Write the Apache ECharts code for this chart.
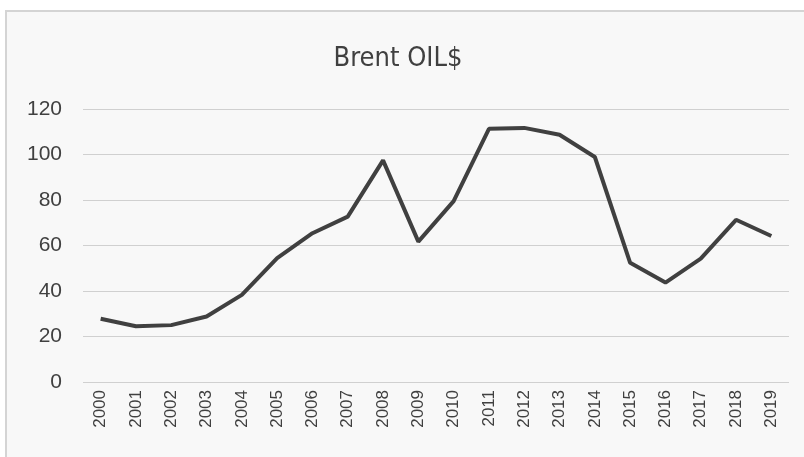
<!DOCTYPE html>
<html>
<head>
<meta charset="utf-8">
<script src="https://cdn.jsdelivr.net/npm/echarts@6/dist/echarts.min.js"></script>
<style>
  html, body { margin: 0; padding: 0; background: #ffffff; }
  #frame {
    position: absolute; left: 5px; top: 10px; width: 806px; height: 455px;
    border: 2px solid #d4d4d4; background: #f8f8f8; box-sizing: border-box;
  }
  #main { position: absolute; left: 0; top: 0; width: 804px; height: 457px; }
</style>
</head>
<body>
<div id="frame"></div>
<div id="main"></div>
<script>
var years = ['2000', '2001', '2002', '2003', '2004', '2005', '2006', '2007', '2008', '2009',
  '2010', '2011', '2012', '2013', '2014', '2015', '2016', '2017', '2018', '2019']
var brentPrice = [27.8, 24.5, 25.0, 28.8, 38.3, 54.5, 65.4, 72.7, 97.4, 61.7,
  79.5, 111.3, 111.7, 108.7, 98.9, 52.4, 43.7, 54.2, 71.3, 64.2]
var yTicks = { min: 0, max: 120, interval: 20 }

var chart = echarts.init(document.getElementById('main'))
chart.setOption({
  backgroundColor: 'transparent',
  title: {
    text: 'Brent OIL$',
    left: 393,
    textAlign: 'center',
    top: 40,
    textStyle: {
      fontFamily: "'Liberation Sans Narrow', 'DejaVu Sans Condensed', sans-serif",
      fontSize: 27, fontWeight: 'normal', color: '#404040'
    }
  },
  grid: { left: 83, right: 15, top: 109, bottom: 75 },
  xAxis: {
    type: 'category',
    data: years,
    boundaryGap: true,
    axisLine: { show: false },
    axisTick: { show: false },
    axisLabel: {
      rotate: 90,
      margin: 8,
      fontFamily: 'Liberation Sans',
      fontSize: 17,
      color: '#404040'
    }
  },
  yAxis: {
    type: 'value',
    min: yTicks.min,
    max: yTicks.max,
    interval: yTicks.interval,
    axisLine: { show: false },
    axisTick: { show: false },
    axisLabel: { margin: 21, fontFamily: 'Liberation Sans', fontSize: 21, color: '#404040' },
    splitLine: { lineStyle: { color: '#d0d0d0', width: 1 } }
  },
  series: [{
    name: 'Brent',
    type: 'line',
    data: brentPrice,
    showSymbol: false,
    lineStyle: { color: '#404040', width: 4 },
    animation: false
  }]
})
</script>
</body>
</html>
